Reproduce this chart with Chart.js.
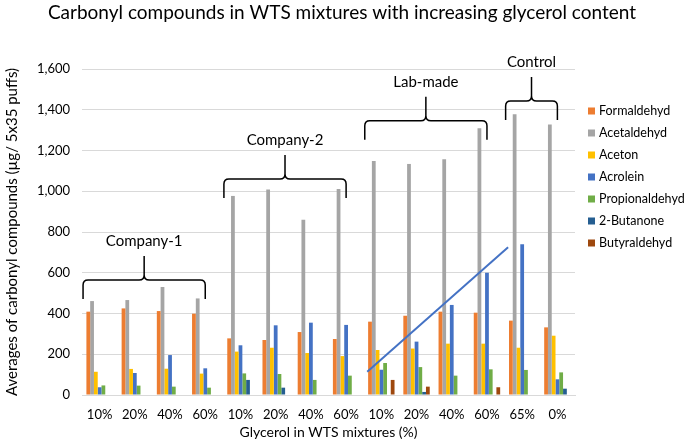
<!DOCTYPE html>
<html>
<head>
<meta charset="utf-8">
<script src="https://cdn.jsdelivr.net/npm/chart.js@4.4.1/dist/chart.umd.min.js"></script>
<style>
  html, body { margin: 0; padding: 0; background: #fff; }
  #wrap { width: 685px; height: 442px; }
</style>
</head>
<body>
<div id="wrap"><canvas id="chart"></canvas></div>
<script>
// chart data
const categories = ['10%', '20%', '40%', '60%', '10%', '20%', '40%', '60%', '10%', '20%', '40%', '60%', '65%', '0%'];
const formaldehyd = [409, 425, 412, 399, 278, 270, 309, 275, 360, 389, 409, 404, 365, 332];
const acetaldehyd = [461, 466, 530, 474, 977, 1009, 860, 1011, 1148, 1134, 1157, 1309, 1378, 1327];
const aceton = [114, 128, 129, 105, 213, 232, 206, 191, 221, 228, 252, 252, 232, 291];
const acrolein = [38, 108, 196, 131, 244, 342, 355, 344, 124, 262, 442, 600, 740, 77];
const propionaldehyd = [47, 46, 41, 36, 106, 103, 74, 95, 157, 137, 95, 126, 123, 111];
const butanone = [null, null, null, null, 74, 36, null, null, null, 15, null, null, null, 31];
const butyraldehyd = [null, null, null, null, null, null, null, null, 74, 41, null, 38, null, null];
const yTicks = [0, 200, 400, 600, 800, 1000, 1200, 1400, 1600];

// trend line drawn over the lab-made / control bars (x in category units)
const trendX = [7.6, 11.6];
const trendY = [114, 725];

// group brackets: label, first and last category, level of the bracket (y value)
const groupLabels = ['Company-1', 'Company-2', 'Lab-made', 'Control'];
const groupFirst = [0, 4, 8, 12];
const groupLast = [3, 7, 11, 13];
const groupLevel = [564, 1060, 1346, 1443];

const FONT = 'Lato, "Open Sans", sans-serif';
const colors = ['#ED7D31', '#A5A5A5', '#FFC000', '#4472C4', '#70AD47', '#255E91', '#9E480E'];
const names = ['Formaldehyd', 'Acetaldehyd', 'Aceton', 'Acrolein', 'Propionaldehyd', '2-Butanone', 'Butyraldehyd'];
const series = [formaldehyd, acetaldehyd, aceton, acrolein, propionaldehyd, butanone, butyraldehyd];

const barSets = series.map(function(values, i) {
    return {
        label: names[i],
        data: values,
        backgroundColor: colors[i],
        categoryPercentage: 0.75,
        barPercentage: 1.0
    };
});

// brackets, trend line, legend and title
const decorations = {
    id: 'decorations',
    afterDatasetsDraw: function(chart) {
        const ctx = chart.ctx;
        const x2 = chart.scales.x2;
        const y = chart.scales.y;

        // trend line
        ctx.save();
        ctx.strokeStyle = '#4472C4';
        ctx.lineWidth = 2;
        ctx.beginPath();
        ctx.moveTo(x2.getPixelForValue(trendX[0]), y.getPixelForValue(trendY[0]));
        ctx.lineTo(x2.getPixelForValue(trendX[1]), y.getPixelForValue(trendY[1]));
        ctx.stroke();
        ctx.restore();
    },
    afterDraw: function(chart) {
        const ctx = chart.ctx;
        const x2 = chart.scales.x2;
        const y = chart.scales.y;

        ctx.save();
        ctx.fillStyle = '#000';
        ctx.textAlign = 'center';
        ctx.textBaseline = 'middle';
        ctx.font = '19px ' + FONT;
        ctx.fillText('Carbonyl compounds in WTS mixtures with increasing glycerol content', 342, 13);

        // brackets
        ctx.strokeStyle = '#000';
        ctx.lineWidth = 1.5;
        ctx.font = '15px ' + FONT;
        for (let i = 0; i < groupLabels.length; i++) {
            const left = x2.getPixelForValue(groupFirst[i] - 0.47);
            const right = x2.getPixelForValue(groupLast[i]);
            const mid = (left + right) / 2;
            const yh = y.getPixelForValue(groupLevel[i]);
            const r = 5;
            ctx.beginPath();
            ctx.moveTo(left, yh + 19);
            ctx.lineTo(left, yh + r);
            ctx.quadraticCurveTo(left, yh, left + r, yh);
            ctx.lineTo(mid - r, yh);
            ctx.quadraticCurveTo(mid, yh, mid, yh - r);
            ctx.lineTo(mid, yh - 24);
            ctx.moveTo(mid, yh - r);
            ctx.quadraticCurveTo(mid, yh, mid + r, yh);
            ctx.lineTo(right - r, yh);
            ctx.quadraticCurveTo(right, yh, right, yh + r);
            ctx.lineTo(right, yh + 19);
            ctx.stroke();
            ctx.fillText(groupLabels[i], mid, yh - 39);
        }

        // legend
        ctx.font = '12.5px ' + FONT;
        ctx.textAlign = 'left';
        for (let i = 0; i < names.length; i++) {
            const cy = 111 + i * 22;
            ctx.fillStyle = colors[i];
            ctx.fillRect(588, cy - 3.5, 7, 7);
            ctx.fillStyle = '#000';
            ctx.fillText(names[i], 599, cy);
        }
        ctx.restore();
    }
};

const ctx = document.getElementById('chart').getContext('2d');
new Chart(ctx, {
    type: 'bar',
    data: {
        labels: categories,
        datasets: barSets
    },
    options: {
        responsive: true,
        maintainAspectRatio: false,
        animation: false,
        layout: { padding: { top: 69, right: 110, left: 0, bottom: 0 } },
        plugins: {
            legend: { display: false },
            title: { display: false },
            tooltip: { enabled: false }
        },
        scales: {
            x: {
                type: 'category',
                offset: true,
                grid: { display: false },
                border: { color: '#D9D9D9' },
                ticks: { color: '#000', font: { family: FONT, size: 13 }, padding: 4, maxRotation: 0, autoSkip: false },
                title: { display: true, text: 'Glycerol in WTS mixtures (%)', color: '#000', font: { family: FONT, size: 14 }, padding: { top: 0, bottom: 1 } },
                afterFit: function(scale) { scale.height = 47; }
            },
            x2: {
                type: 'linear',
                display: false,
                offset: false,
                grid: { offset: false },
                min: -0.5,
                max: 13.5
            },
            y: {
                min: 0,
                max: 1600,
                afterBuildTicks: function(scale) { scale.ticks = yTicks.map(function(v) { return { value: v }; }); },
                grid: { color: '#D9D9D9', drawTicks: false },
                border: { display: false },
                ticks: {
                    color: '#000',
                    font: { family: FONT, size: 13 },
                    padding: 12,
                    callback: function(v) { return v.toLocaleString('en-US'); }
                },
                title: { display: true, text: 'Averages of carbonyl compounds (µg/ 5x35 puffs)', color: '#000', font: { family: FONT, size: 15 }, padding: { top: 3, bottom: 0 } },
                afterFit: function(scale) { scale.width = 82; }
            }
        }
    },
    plugins: [decorations]
});
</script>
</body>
</html>
